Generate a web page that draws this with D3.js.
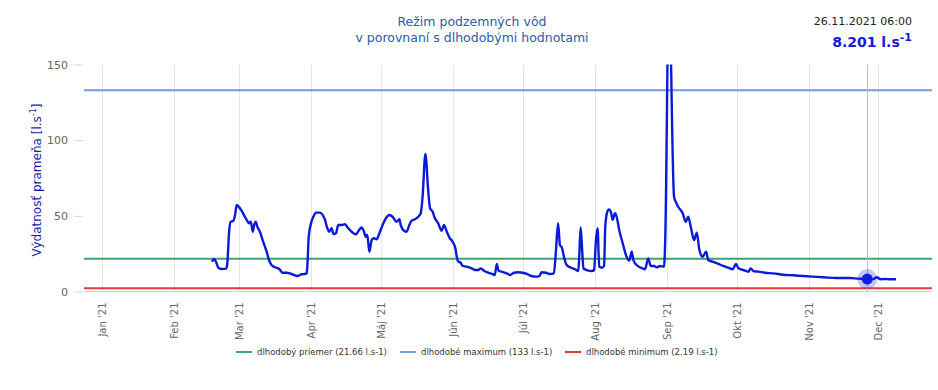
<!DOCTYPE html>
<html>
<head>
<meta charset="utf-8">
<script src="https://cdn.jsdelivr.net/npm/d3@7"></script>
<style>
  body { margin: 0; background: #fff; }
  svg { display: block; font-family: "DejaVu Sans", sans-serif; }
  .axis text { fill: #666; }
</style>
</head>
<body>
<svg id="chart" width="938" height="390"></svg>
<script>
// days are counted from 1 Jan 2021 (0 = 1 Jan), values in l.s-1
var seriesDays = [47.3, 48.1, 49.0, 50.0, 51.4, 53.3, 53.8, 54.7, 55.3, 56.4, 57.2, 57.9, 59.0, 60.0, 61.0, 62.2, 63.3, 64.0, 64.8, 65.5,
  66.1, 66.8, 67.9, 69.3, 70.8, 71.8, 72.9, 74.4, 76.2, 77.7, 79.4, 80.8, 82.2, 84.0, 85.6, 86.8, 88.0, 88.3, 88.9, 89.7,
  90.9, 92.0, 93.7, 94.9, 95.9, 96.9, 97.7, 98.8, 99.5, 100.6, 101.6, 103.1, 104.5, 105.9, 107.4, 109.2, 110.6, 111.7, 112.7, 113.4,
  114.1, 115.0, 116.0, 117.0, 118.1, 119.3, 120.7, 122.1, 123.6, 125.0, 126.7, 127.9, 128.5, 129.6, 131.0, 132.2, 133.2, 134.6, 136.0, 137.1,
  137.9, 139.1, 140.3, 141.1, 142.2, 143.2, 144.6, 146.1, 147.1, 148.3, 149.4, 150.8, 152.0, 152.6, 153.3, 154.3, 155.1, 156.9, 159.0, 160.4,
  161.9, 163.0, 164.3, 166.2, 168.1, 169.0, 169.8, 170.6, 171.9, 174.1, 175.5, 177.2, 179.1, 181.0, 182.7, 184.4, 186.7, 188.1, 189.1, 191.0,
  192.7, 194.4, 195.3, 196.2, 197.0, 197.8, 198.7, 199.9, 201.3, 203.5, 204.9, 205.3, 205.9, 206.6, 207.1, 208.5, 210.7, 211.7, 212.5, 213.2,
  213.9, 215.0, 216.0, 216.5, 217.4, 218.1, 219.0, 219.7, 220.7, 221.4, 222.5, 224.0, 225.4, 226.8, 227.9, 228.6, 230.0, 231.4, 233.6, 235.0,
  236.1, 237.5, 238.6, 240.1, 241.8, 242.3, 243.9, 246.1, 247.0, 247.9, 249.8, 251.2, 252.2, 253.3, 254.7, 255.9, 257.0, 258.4, 259.9, 260.8,
  262.7, 265.2, 267.3, 269.5, 271.3, 272.8, 273.8, 275.9, 278.1, 279.1, 280.2, 282.4, 285.2, 288.8, 293.1, 297.4, 301.7, 306.0, 310.3, 316.1,
  321.8, 325.4, 329.25, 331.9, 333.3, 335.0, 336.9, 339.0, 341.6];
var seriesValues = [19.7, 21.5, 19.7, 15.7, 14.9, 15.1, 17.5, 40.6, 46.1, 46.6, 50.6, 57.2, 55.6, 53.4, 50.6, 47.3, 45.1, 46.1, 39.5, 44.4,
  46.1, 42.8, 39.5, 32.9, 26.3, 20.8, 17.5, 16.0, 14.9, 12.4, 12.4, 12.0, 11.1, 10.2, 11.3, 11.5, 12.0, 16.4, 36.2, 43.9,
  49.4, 52.1, 52.1, 50.6, 47.3, 41.8, 39.5, 41.8, 38.0, 38.5, 43.9, 43.9, 44.4, 41.8, 39.5, 37.8, 40.6, 42.4, 39.5, 36.2,
  37.3, 26.3, 34.0, 35.2, 34.5, 38.5, 43.9, 48.4, 50.6, 49.4, 46.1, 47.7, 43.9, 40.6, 39.5, 43.9, 46.8, 47.7, 49.4, 51.7,
  62.7, 90.9, 67.0, 55.0, 52.8, 48.4, 45.1, 40.2, 43.9, 39.5, 35.8, 32.9, 28.5, 23.0, 19.7, 19.0, 16.9, 16.4, 15.3, 14.2,
  14.2, 15.3, 13.7, 12.4, 11.4, 10.9, 18.2, 13.7, 13.1, 12.0, 10.9, 12.4, 12.7, 12.4, 11.6, 10.4, 9.8, 10.2, 12.7, 12.4,
  11.6, 12.0, 27.4, 45.1, 30.7, 29.2, 23.0, 17.5, 16.0, 14.7, 13.5, 23.0, 42.4, 26.3, 15.3, 14.2, 13.5, 14.2, 34.0, 41.8,
  16.4, 15.7, 16.9, 42.8, 52.8, 54.3, 52.1, 47.3, 51.7, 49.4, 40.6, 31.9, 24.1, 20.4, 26.3, 20.8, 17.5, 16.0, 14.7, 21.9,
  16.9, 16.9, 16.0, 16.9, 16.4, 34.0, 200.0, 62.7, 58.7, 56.0, 51.7, 46.1, 49.4, 42.8, 34.0, 38.9, 27.4, 23.0, 26.3, 20.8,
  19.7, 18.2, 16.9, 15.7, 14.7, 18.2, 15.3, 14.2, 13.1, 15.3, 13.5, 13.1, 12.4, 12.0, 11.1, 10.7, 10.2, 9.8, 9.4, 8.9,
  8.9, 8.5, 8.201, 8.2, 9.4, 8.1, 8.3, 8.1, 8.1];

var monthLabels = ["Jan '21", "Feb '21", "Mar '21", "Apr '21", "Máj '21", "Jún '21", "Júl '21", "Aug '21", "Sep '21", "Okt '21", "Nov '21", "Dec '21"];
var yTicks = [0, 50, 100, 150];

var refNames = ["dlhodobý priemer (21.66 l.s-1)", "dlhodobé maximum (133 l.s-1)", "dlhodobé minimum (2.19 l.s-1)"];
var refValues = [21.66, 133, 2.19];
var refColors = ["#3fa46c", "#739bd4", "#e03a3a"];

var currentDay = 329.25;   // 26.11.2021 06:00
var currentValue = 8.201;

(function () {
  var start = Date.UTC(2021, 0, 1);
  function dayToDate(d) { return new Date(start + d * 864e5); }

  var svg = d3.select('#chart');
  var plotLeft = 84, plotRight = 932, plotTop = 64.5, plotBottom = 291.5;

  var x = d3.scaleUtc()
      .domain([dayToDate(-7.8), dayToDate(357.1)])
      .range([plotLeft, plotRight]);
  var y = d3.scaleLinear()
      .domain([0, 150])
      .range([plotBottom, plotTop]);

  var months = d3.range(12).map(function (m) { return new Date(Date.UTC(2021, m, 1)); });

  // vertical grid
  svg.append('g')
      .selectAll('line')
      .data(months)
      .enter().append('line')
      .attr('x1', function (d) { return Math.round(x(d)) + 0.5; })
      .attr('x2', function (d) { return Math.round(x(d)) + 0.5; })
      .attr('y1', plotTop)
      .attr('y2', plotBottom)
      .attr('stroke', '#e6e6e6');

  // x axis line
  svg.append('line')
      .attr('x1', plotLeft).attr('x2', plotRight)
      .attr('y1', plotBottom).attr('y2', plotBottom)
      .attr('stroke', '#ccd6eb');

  // x labels
  var xAxis = svg.append('g')
      .attr('class', 'axis')
      .attr('transform', 'translate(0,' + plotBottom + ')')
      .call(d3.axisBottom(x).tickValues(months).tickSize(0)
        .tickFormat(function (d, i) { return monthLabels[i]; }));
  xAxis.select('.domain').remove();
  xAxis.selectAll('text')
      .attr('font-family', '"DejaVu Sans", sans-serif')
      .attr('font-size', 10)
      .attr('text-anchor', 'end')
      .attr('dy', '0.35em')
      .attr('transform', 'translate(0,11) rotate(-90)')
      .attr('y', 0)
      .attr('x', 0);

  // y axis
  var yAxis = svg.append('g')
      .attr('class', 'axis')
      .attr('transform', 'translate(' + (plotLeft - 1) + ',0)')
      .call(d3.axisLeft(y).tickValues(yTicks).tickSize(9).tickPadding(6));
  yAxis.select('.domain').remove();
  yAxis.selectAll('line').attr('stroke', '#ccd6eb');
  yAxis.selectAll('text')
      .attr('font-family', '"DejaVu Sans", sans-serif')
      .attr('font-size', 11);

  // y axis title
  svg.append('text')
      .attr('transform', 'translate(41,' + ((plotTop + plotBottom) / 2 + 2) + ') rotate(-90)')
      .attr('text-anchor', 'middle')
      .attr('font-size', 12)
      .attr('fill', '#1c1caa')
      .text('Výdatnosť prameňa [l.s')
      .call(function (t) {
        t.append('tspan').attr('dy', -5).attr('font-size', 8).text('-1');
        t.append('tspan').attr('dy', 5).text(']');
      });

  // reference lines
  svg.append('g')
      .selectAll('line')
      .data(refValues)
      .enter().append('line')
      .attr('x1', plotLeft).attr('x2', plotRight)
      .attr('y1', function (d) { return y(d); })
      .attr('y2', function (d) { return y(d); })
      .attr('stroke', function (d, i) { return refColors[i]; })
      .attr('stroke-width', 2);

  // crosshair
  var cx = x(dayToDate(currentDay)), cy = y(currentValue);
  svg.append('line')
      .attr('x1', Math.round(cx) + 0.5)
      .attr('x2', Math.round(cx) + 0.5)
      .attr('y1', plotTop).attr('y2', plotBottom)
      .attr('stroke', '#bcbcbc');

  // series
  svg.append('clipPath').attr('id', 'plotClip')
    .append('rect')
      .attr('x', plotLeft).attr('y', plotTop)
      .attr('width', plotRight - plotLeft).attr('height', plotBottom - plotTop);

  var line = d3.line()
      .x(function (d, i) { return x(dayToDate(seriesDays[i])); })
      .y(function (d) { return y(d); })
      .curve(d3.curveMonotoneX);

  svg.append('path')
      .datum(seriesValues)
      .attr('clip-path', 'url(#plotClip)')
      .attr('fill', 'none')
      .attr('stroke', '#0a1ad8')
      .attr('stroke-width', 2.4)
      .attr('stroke-linejoin', 'round')
      .attr('d', line);

  // hovered point
  svg.append('circle')
      .attr('cx', cx).attr('cy', cy).attr('r', 10)
      .attr('fill', '#0f1fdc').attr('fill-opacity', 0.25);
  svg.append('circle')
      .attr('cx', cx).attr('cy', cy).attr('r', 5.5)
      .attr('fill', '#0a1ef0');

  // title
  var title = svg.append('text')
      .attr('text-anchor', 'middle')
      .attr('font-size', 12.5)
      .attr('fill', '#2d5aa6');
  title.append('tspan').attr('x', 472).attr('y', 26).text('Režim podzemných vôd');
  title.append('tspan').attr('x', 472).attr('y', 42).text('v porovnaní s dlhodobými hodnotami');

  // current value box
  svg.append('text')
      .attr('x', 912).attr('y', 25)
      .attr('text-anchor', 'end')
      .attr('font-size', 11)
      .attr('fill', '#222')
      .text('26.11.2021 06:00');
  svg.append('text')
      .attr('x', 912).attr('y', 47)
      .attr('text-anchor', 'end')
      .attr('font-size', 14)
      .attr('font-weight', 'bold')
      .attr('fill', '#1717e0')
      .text(d3.format('.3f')(currentValue) + ' l.s')
      .append('tspan').attr('dy', -6).attr('font-size', 11).text('-1');

  // legend
  var legendX = [236, 400, 565];
  var legend = svg.append('g')
      .selectAll('g')
      .data(refNames)
      .enter().append('g')
      .attr('transform', function (d, i) { return 'translate(' + legendX[i] + ',352)'; });
  legend.append('line')
      .attr('x1', 0).attr('x2', 16)
      .attr('stroke', function (d, i) { return refColors[i]; })
      .attr('stroke-width', 2);
  legend.append('text')
      .attr('x', 21).attr('dy', '0.35em')
      .attr('font-size', 8.5)
      .attr('fill', '#333')
      .text(function (d) { return d; });
})();
</script>
</body>
</html>
